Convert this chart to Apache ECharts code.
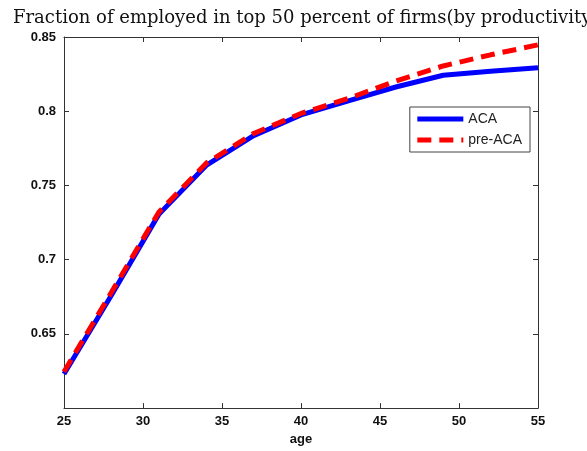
<!DOCTYPE html>
<html>
<head>
<meta charset="utf-8">
<script src="https://cdn.jsdelivr.net/npm/echarts@6/dist/echarts.min.js"></script>
<style>
html,body{margin:0;padding:0;background:#fff;overflow:hidden;}
#c{width:587px;height:451px;}
</style>
</head>
<body>
<div id="c"></div>
<script>
const titleText = 'Fraction of employed in top 50 percent of firms(by productivity)';
const ages = [25, 28, 31, 34, 37, 40, 43, 46, 49, 52, 55];
const aca = [0.623, 0.676, 0.7305, 0.7635, 0.7835, 0.7975, 0.807, 0.8163, 0.8242, 0.827, 0.8293];
const preAca = [0.6245, 0.678, 0.732, 0.765, 0.785, 0.7985, 0.8086, 0.8203, 0.8305, 0.838, 0.8447];
const xTicks = [25, 30, 35, 40, 45, 50, 55];
const yTicks = [0.65, 0.7, 0.75, 0.8, 0.85];

const tickFont = {fontFamily: '"Liberation Sans Narrow", "Liberation Sans", Arial, sans-serif', fontWeight: 'bold', fontSize: 13, color: '#111'};
const axisLine = {show: true, lineStyle: {color: '#333', width: 1}};
const tickIn = {show: true, inside: true, length: 5, lineStyle: {color: '#333'}};

const chart = echarts.init(document.getElementById('c'), null, {renderer: 'canvas'});
chart.setOption({
  animation: false,
  backgroundColor: '#fff',
  title: {
    text: titleText, left: 8, top: 4,
    textStyle: {fontFamily: '"DejaVu Serif", serif', fontWeight: 'normal', fontSize: 18, color: '#111'}
  },
  grid: {left: 64, right: 49, top: 37, bottom: 41, containLabel: false},
  legend: {
    right: 57, top: 107, orient: 'vertical', itemGap: 7,
    itemWidth: 46, itemHeight: 12,
    padding: [5, 8, 5, 5],
    borderColor: '#444', borderWidth: 1, backgroundColor: '#fff',
    itemStyle: {opacity: 0},
    lineStyle: {width: 5},
    textStyle: {fontFamily: '"Liberation Sans", Arial, sans-serif', fontSize: 14, color: '#222'},
    data: ['ACA', 'pre-ACA']
  },
  xAxis: [
    {type: 'value', min: 25, max: 55, interval: 5, position: 'bottom',
     axisLine: axisLine, axisTick: tickIn, splitLine: {show: false},
     axisLabel: Object.assign({margin: 7}, tickFont),
     name: 'age', nameLocation: 'middle', nameGap: 24,
     nameTextStyle: tickFont},
    {type: 'value', min: 25, max: 55, interval: 5, position: 'top',
     axisLine: axisLine, axisTick: tickIn, axisLabel: {show: false}, splitLine: {show: false}}
  ],
  yAxis: [
    {type: 'value', min: 0.6, max: 0.85, interval: 0.05, position: 'left',
     axisLine: axisLine, axisTick: tickIn, splitLine: {show: false},
     axisLabel: Object.assign({margin: 8, showMinLabel: false,
       formatter: v => (yTicks.some(t => Math.abs(t - v) < 1e-9) ? String(+v.toFixed(2)) : '')}, tickFont)},
    {type: 'value', min: 0.6, max: 0.85, interval: 0.05, position: 'right',
     axisLine: axisLine, axisTick: tickIn, axisLabel: {show: false}, splitLine: {show: false}}
  ],
  series: [
    {name: 'ACA', type: 'line', data: ages.map((a, i) => [a, aca[i]]),
     showSymbol: false, symbol: 'none', lineStyle: {color: '#0000ff', width: 5}, itemStyle: {color: '#0000ff'}, z: 2},
    {name: 'pre-ACA', type: 'line', data: ages.map((a, i) => [a, preAca[i]]),
     showSymbol: false, symbol: 'none', lineStyle: {color: '#ff0000', width: 5, type: [14, 8]}, itemStyle: {color: '#ff0000'}, z: 3}
  ]
});
</script>
</body>
</html>
